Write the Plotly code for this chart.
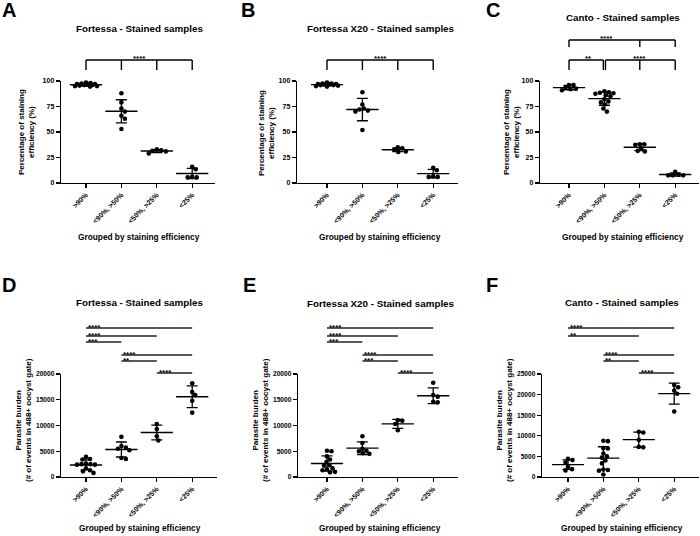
import numpy as np
import plotly.graph_objects as go

# ---------------- data ----------------
categories = [">90%", "<90%, >50%", "<50%, >25%", "<25%"]

fortessa_eff = [
    [98.5, 97.5, 97, 96.5, 96, 96, 95.5, 95, 94.5, 97, 98, 95],
    [88, 79, 73, 70, 66, 63, 53],
    [33, 32, 31.5, 31, 29],
    [16, 13.5, 6, 5.5, 5.5],
]
fortessa_x20_eff = [
    [98.5, 97.5, 97, 97, 96.5, 96, 96, 95.5, 95, 94.5, 97.5, 96.5],
    [89, 77, 73, 72, 71, 70, 52],
    [35, 34, 32.5, 31, 30.5],
    [15, 12.5, 6, 6, 6.5],
]
canto_eff = [
    [96, 96, 93.5, 92, 91, 92.5],
    [90, 89, 88.5, 88, 87.5, 86, 85, 82, 80, 79, 77, 73, 70],
    [38, 38, 37.5, 34, 31.5, 31],
    [11, 8, 7.5, 7.5, 7.5],
]
fortessa_burden = [
    [3900, 3500, 3400, 2600, 2500, 2500, 2400, 2400, 1700, 1300, 1100, 800],
    [7800, 6000, 5700, 5500, 5200, 3700, 3500],
    [10300, 9300, 7900, 7100],
    [18200, 16500, 15900, 14800, 12500],
]
fortessa_x20_burden = [
    [5100, 5000, 4000, 3400, 2900, 2300, 2200, 1700, 1500, 1300, 1000, 900],
    [7900, 6600, 5500, 5100, 5000, 4600, 4500],
    [11000, 10900, 10300, 9100],
    [18300, 15900, 15600, 14600, 14500],
]
canto_burden = [
    [4400, 4100, 3500, 2500, 1900, 1600],
    [8800, 8700, 7000, 6900, 5700, 5000, 4700, 4000, 3300, 1800, 1700, 1500, 600],
    [11000, 10800, 9000, 7300, 7200],
    [22300, 21800, 21000, 20200, 15900],
]

# significance: brackets (top row) and lines (bottom row)
sig_A = [([0, 1, 2, 3], "****", 1.5)]
sig_B = [([0, 1, 2, 3], "****", 1.5)]
sig_C_top = [([0, 2, 3], "****", 1.07)]
sig_C = [([0, 0.97], "**", 0.54), ([1.03, 2, 3], "****", 1.98)]
sig_D = [(0, 3, "****"), (0, 2, "****"), (0, 1, "***"), (1, 3, "****"), (1, 2, "**"), (2, 3, "****")]
sig_E = [(0, 3, "****"), (0, 2, "****"), (0, 1, "***"), (1, 3, "****"), (1, 2, "***"), (2, 3, "****")]
sig_F = [(0, 3, "****"), (0, 2, "**"), (1, 3, "****"), (1, 2, "**"), (2, 3, "****")]

eff_title = "Percentage of staining<br>efficiency (%)"
burden_title = "Parasite burden<br>(# of events in 488+ oocyst gate)"
x_title = "Grouped by staining efficiency"

# ---------------- layout helpers ----------------
W, H = 700, 536
FONT = "Liberation Sans, Arial, sans-serif"
SP = 35.4  # px between categories


def fx(p):
    return p / W


def fy(p):
    return 1 - p / H


LINE_Y_D = [328, 336, 342, 355, 361, 373]
LINE_Y_F = [328, 336, 355, 361, 373]

panels = [
    dict(letter="A", title="Fortessa - Stained samples", data=fortessa_eff, x0=61, x1=215, cat0=86,
         ytop=81, ybot=183, yr=[0, 100], dt=25, ytitle=eff_title,
         tpos=(139, 29), lpos=(9, 10), ytpos=(27, 132), xtpos=(139, 237)),
    dict(letter="B", title="Fortessa X20 - Stained samples", data=fortessa_x20_eff, x0=297, x1=458, cat0=327,
         ytop=81, ybot=183, yr=[0, 100], dt=25, ytitle=eff_title,
         tpos=(381, 29), lpos=(248, 10), ytpos=(267, 133), xtpos=(380, 237)),
    dict(letter="C", title="Canto - Stained samples", data=canto_eff, x0=540, x1=699, cat0=569,
         ytop=81, ybot=183, yr=[0, 100], dt=25, ytitle=eff_title,
         tpos=(623, 17), lpos=(493, 10), ytpos=(512, 132), xtpos=(623, 237)),
    dict(letter="D", title="Fortessa - Stained samples", data=fortessa_burden, x0=61, x1=217, cat0=86,
         ytop=374, ybot=477, yr=[0, 20000], dt=5000, ytitle=burden_title,
         tpos=(139, 302), lpos=(9, 285), ytpos=(23, 420), xtpos=(140, 528)),
    dict(letter="E", title="Fortessa X20 - Stained samples", data=fortessa_x20_burden, x0=298, x1=458, cat0=327,
         ytop=374, ybot=477, yr=[0, 20000], dt=5000, ytitle=burden_title,
         tpos=(381, 303), lpos=(249, 285), ytpos=(260, 420), xtpos=(380, 528)),
    dict(letter="F", title="Canto - Stained samples", data=canto_burden, x0=542, x1=699, cat0=568,
         ytop=374, ybot=477, yr=[0, 25000], dt=5000, ytitle=burden_title,
         tpos=(622, 302), lpos=(492, 285), ytpos=(504, 420), xtpos=(622, 528)),
]


def swarm_offsets(vals, ppy, diam=4.3, step=0.5, maxoff=11.0):
    """Deterministic beeswarm layout (px offsets), limited to +-maxoff."""
    order = sorted(range(len(vals)), key=lambda i: -vals[i])
    placed = []
    offs = [0.0] * len(vals)
    cands = [0.0]
    k = 1
    while k * step <= maxoff:
        cands += [k * step, -k * step]
        k += 1
    for i in order:
        yp = vals[i] * ppy
        chosen = None
        best, best_d = 0.0, -1.0
        for c in cands:
            dmin = min([np.hypot(c - a, yp - b) for a, b in placed] or [1e9])
            if dmin >= diam:
                chosen = c
                break
            if dmin > best_d + 1e-9:
                best, best_d = c, dmin
        if chosen is None:
            chosen = best
        placed.append((chosen, yp))
        offs[i] = chosen
    return offs


fig = go.Figure()
annotations = []
shapes = []
ticktext = [c.replace("<", "&lt;").replace(">", "&gt;") for c in categories]

for idx, p in enumerate(panels):
    n = idx + 1
    xa = "x" if n == 1 else f"x{n}"
    ya = "y" if n == 1 else f"y{n}"
    xr0 = -(p["cat0"] - p["x0"]) / SP
    xr1 = (p["x1"] - p["cat0"]) / SP
    ppy = (p["ybot"] - p["ytop"]) / (p["yr"][1] - p["yr"][0])
    bottom_row = p["ytop"] > 300

    for ci, vals in enumerate(p["data"]):
        offs = swarm_offsets(vals, ppy)
        fig.add_trace(go.Scatter(
            x=[ci + o / SP for o in offs], y=vals, mode="markers", xaxis=xa, yaxis=ya,
            marker=dict(color="black", size=4.6), showlegend=False, hoverinfo="skip", cliponaxis=False))
        m = float(np.mean(vals))
        sd = float(np.std(vals, ddof=1))
        fig.add_trace(go.Scatter(
            x=[ci], y=[m], mode="markers", xaxis=xa, yaxis=ya, showlegend=False, hoverinfo="skip",
            marker=dict(symbol="line-ew", size=23, color="black", line=dict(width=1.4, color="black")),
            error_y=dict(type="data", array=[sd], visible=True, color="black", thickness=1.3, width=5.5),
            cliponaxis=False))

    axis_common = dict(showline=True, linecolor="black", linewidth=1.3, ticks="outside",
                       tickcolor="black", tickwidth=1.3, ticklen=4, showgrid=False, zeroline=False,
                       automargin=False, fixedrange=True)
    fig.update_layout(**{
        ("xaxis" if n == 1 else f"xaxis{n}"): dict(
            axis_common, domain=[fx(p["x0"]), fx(p["x1"])], range=[xr0, xr1], anchor=ya,
            tickvals=[0, 1, 2, 3], ticktext=ticktext, tickangle=-45,
            tickfont=dict(family=FONT, size=7, color="black", weight="bold")),
        ("yaxis" if n == 1 else f"yaxis{n}"): dict(
            axis_common, domain=[fy(p["ybot"]), fy(p["ytop"])], range=p["yr"], anchor=xa,
            tickmode="linear", tick0=0, dtick=p["dt"], tickformat="d",
            tickfont=dict(family=FONT, size=7 if not bottom_row else 6.6, color="black", weight="bold")),
    })

    # texts
    annotations.append(dict(text=p["letter"], x=fx(p["lpos"][0]), y=fy(p["lpos"][1]), xref="paper", yref="paper",
                            showarrow=False, xanchor="center", yanchor="middle",
                            font=dict(family=FONT, size=20, color="black", weight="bold")))
    annotations.append(dict(text=p["title"], x=fx(p["tpos"][0]), y=fy(p["tpos"][1]), xref="paper", yref="paper",
                            showarrow=False, xanchor="center", yanchor="middle",
                            font=dict(family=FONT, size=9.8, color="black", weight="bold")))
    annotations.append(dict(text=p["ytitle"], x=fx(p["ytpos"][0]), y=fy(p["ytpos"][1]), xref="paper", yref="paper",
                            showarrow=False, xanchor="center", yanchor="middle", textangle=-90,
                            font=dict(family=FONT, size=8, color="black", weight="bold")))
    annotations.append(dict(text=x_title, x=fx(p["xtpos"][0]), y=fy(p["xtpos"][1]), xref="paper", yref="paper",
                            showarrow=False, xanchor="center", yanchor="middle",
                            font=dict(family=FONT, size=8.3, color="black", weight="bold")))

star_font = dict(family=FONT, size=8, color="black", weight="bold")


def add_brackets(xa, groups, ytop, drop):
    for xs, label, lx in groups:
        shapes.append(dict(type="line", xref=xa, yref="paper", x0=xs[0], x1=xs[-1], y0=fy(ytop), y1=fy(ytop),
                           line=dict(color="black", width=1.4)))
        for xv in xs:
            shapes.append(dict(type="line", xref=xa, yref="paper", x0=xv, x1=xv, y0=fy(ytop), y1=fy(ytop + drop),
                               line=dict(color="black", width=1.4)))
        annotations.append(dict(text=label, x=lx, y=fy(ytop - 1.6), xref=xa, yref="paper", showarrow=False,
                                xanchor="center", yanchor="middle", font=star_font))


def add_lines(xa, groups, ys):
    for (a, b, label), yp in zip(groups, ys):
        shapes.append(dict(type="line", xref=xa, yref="paper", x0=a, x1=b, y0=fy(yp), y1=fy(yp),
                           line=dict(color="#222222", width=1.5)))
        annotations.append(dict(text=label, x=a, y=fy(yp - 0.8), xref=xa, yref="paper", showarrow=False,
                                xanchor="left", yanchor="middle", xshift=0, font=star_font))


add_brackets("x", sig_A, 60, 10)
add_brackets("x2", sig_B, 60, 10)
add_brackets("x3", sig_C_top, 40, 7)
add_brackets("x3", sig_C, 60, 10)
add_lines("x4", sig_D, LINE_Y_D)
add_lines("x5", sig_E, LINE_Y_D)
add_lines("x6", sig_F, LINE_Y_F)

fig.update_layout(width=W, height=H, margin=dict(l=0, r=0, t=0, b=0), paper_bgcolor="white",
                  plot_bgcolor="white", annotations=annotations, shapes=shapes, showlegend=False,
                  hovermode=False)

fig.write_html("out.html", config={"displayModeBar": False, "staticPlot": True},
               post_script="document.body.style.margin='0px';document.body.style.overflow='hidden';")
